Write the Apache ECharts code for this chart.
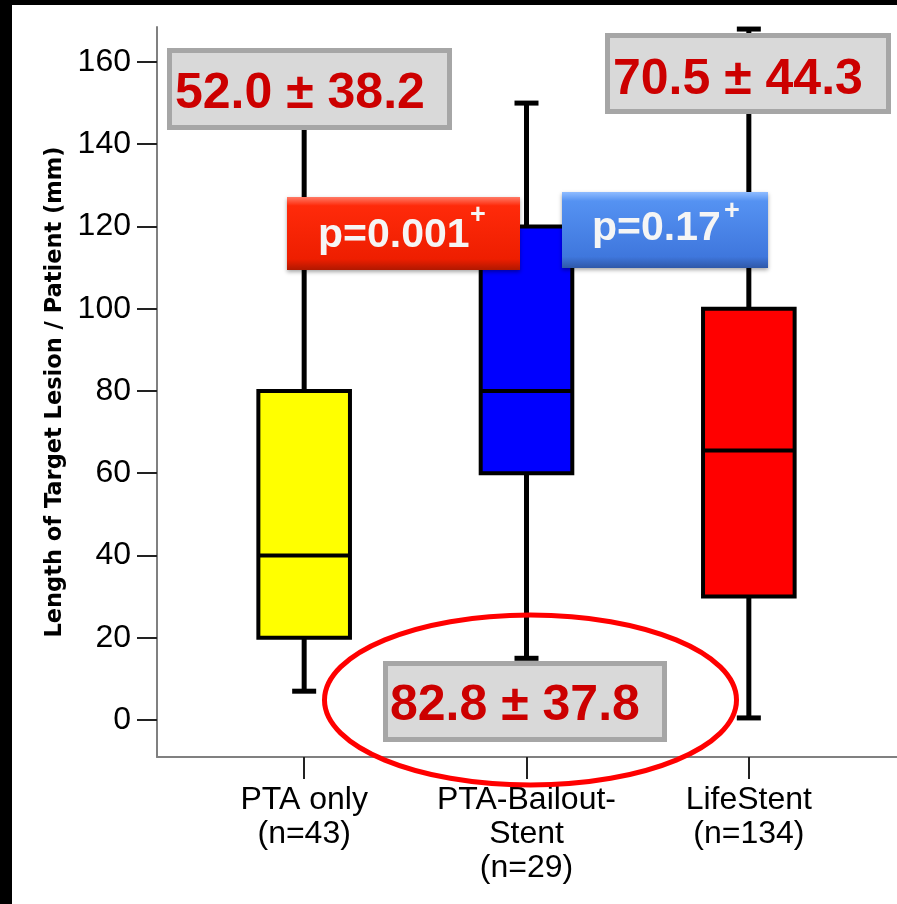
<!DOCTYPE html>
<html>
<head>
<meta charset="utf-8">
<title>Length of Target Lesion / Patient</title>
<script src="https://cdn.jsdelivr.net/npm/echarts@6.0.0/dist/echarts.min.js"></script>
<style>
  html, body { margin: 0; padding: 0; background: #fff; }
  #chart { width: 897px; height: 904px; }
</style>
</head>
<body>
<div id="chart"></div>
<script>
// values
const categories = ['PTA only\n(n=43)', 'PTA-Bailout-\nStent\n(n=29)', 'LifeStent\n(n=134)']
const whiskerLow = [7, 15, 0.5]
const quartile1 = [20, 60, 30]
const medians = [40, 80, 65.5]
const quartile3 = [80, 120, 100]
const whiskerHigh = [155, 150, 168]
const means = [52.0, 82.8, 70.5]
const sds = [38.2, 37.8, 44.3]
const pValues = ['0.001', '0.17']
const yTicks = [0, 20, 40, 60, 80, 100, 120, 140, 160]

const boxColors = ['#FFFF00', '#0000FF', '#FF0000']
const FONT = '"Liberation Sans", Arial, sans-serif'

const chart = echarts.init(document.getElementById('chart'))

function renderBox(params, api) {
  const i = api.value(0)
  const low = api.coord([i, api.value(1)])
  const q1 = api.coord([i, api.value(2)])
  const med = api.coord([i, api.value(3)])
  const q3 = api.coord([i, api.value(4)])
  const high = api.coord([i, api.value(5)])
  const x = low[0]
  const halfBox = api.size([1, 0])[0] * 0.206
  const halfCap = 12
  const line = { stroke: '#000', lineWidth: 5 }
  return {
    type: 'group',
    children: [
      { type: 'line', shape: { x1: x, y1: low[1], x2: x, y2: q1[1] }, style: line },
      { type: 'line', shape: { x1: x, y1: q3[1], x2: x, y2: high[1] }, style: line },
      { type: 'line', shape: { x1: x - halfCap, y1: low[1], x2: x + halfCap, y2: low[1] }, style: line },
      { type: 'line', shape: { x1: x - halfCap, y1: high[1], x2: x + halfCap, y2: high[1] }, style: line },
      {
        type: 'rect',
        shape: { x: x - halfBox, y: q3[1], width: halfBox * 2, height: q1[1] - q3[1] },
        style: { fill: boxColors[params.dataIndex], stroke: '#000', lineWidth: 4 }
      },
      { type: 'line', shape: { x1: x - halfBox, y1: med[1], x2: x + halfBox, y2: med[1] }, style: { stroke: '#000', lineWidth: 4 } }
    ]
  }
}

function meanText(i) {
  return means[i].toFixed(1) + ' \u00B1 ' + sds[i].toFixed(1)
}

function grayBox(shape, i, tx, ty) {
  return [
    { type: 'rect', z: 110, shape: shape, style: { fill: '#D9D9D9', stroke: '#A6A6A6', lineWidth: 5 } },
    {
      type: 'text', z: 111, x: tx, y: ty,
      style: { text: meanText(i), fill: '#CC0000', font: 'bold 50px ' + FONT, textAlign: 'left', textVerticalAlign: 'middle', align: 'left', verticalAlign: 'middle' }
    }
  ]
}

function gradient(top, mid, low, bottom) {
  return {
    type: 'linear', x: 0, y: 0, x2: 0, y2: 1,
    colorStops: [
      { offset: 0, color: top }, { offset: 0.12, color: mid },
      { offset: 0.85, color: low }, { offset: 1, color: bottom }
    ]
  }
}

function pButton(shape, fill, p, tx, ty, px, py) {
  return [
    {
      type: 'rect', z: 110, shape: shape,
      style: { fill: fill, shadowBlur: 4, shadowOffsetY: 2, shadowColor: 'rgba(0,0,0,0.35)' }
    },
    {
      type: 'text', z: 111, x: tx, y: ty,
      style: { text: 'p=' + p, fill: '#F5F5F5', font: 'bold 41px ' + FONT, textAlign: 'left', textVerticalAlign: 'middle', align: 'left', verticalAlign: 'middle' }
    },
    {
      type: 'text', z: 111, x: px, y: py,
      style: { text: '+', fill: '#F5F5F5', font: 'bold 27px ' + FONT, textAlign: 'left', textVerticalAlign: 'middle', align: 'left', verticalAlign: 'middle' }
    }
  ]
}

const option = {
  backgroundColor: '#fff',
  animation: false,
  grid: [
    { left: 193, right: 37, top: 27, bottom: 147 },
    { left: 157, right: 0, top: 27, bottom: 147 }
  ],
  xAxis: [
    {
      type: 'category',
      gridIndex: 0,
      data: categories,
      axisLine: { show: false, onZero: false },
      axisTick: { show: true, alignWithLabel: true, length: 22, lineStyle: { color: '#222', width: 2 } },
      axisLabel: { margin: 26, fontSize: 32, lineHeight: 34, color: '#000', fontFamily: FONT, interval: 0 }
    },
    {
      type: 'value',
      gridIndex: 1,
      min: 0,
      max: 1,
      axisLine: { show: true, onZero: false, lineStyle: { color: '#808080', width: 2 } },
      axisTick: { show: false },
      axisLabel: { show: false },
      splitLine: { show: false }
    }
  ],
  yAxis: [
    {
      type: 'value',
      gridIndex: 0,
      min: -9,
      max: 168.5,
      offset: 36,
      name: 'Length of Target Lesion / Patient (mm)',
      nameLocation: 'middle',
      nameRotate: 90,
      nameGap: 86,
      nameTextStyle: { fontSize: 22.5, fontWeight: 'bold', color: '#000', fontFamily: '"DejaVu Sans", sans-serif' },
      axisLine: { show: true, onZero: false, lineStyle: { color: '#808080', width: 2 } },
      axisTick: { show: true, customValues: yTicks, length: 20, lineStyle: { color: '#222', width: 2 } },
      axisLabel: { customValues: yTicks, margin: 26, fontSize: 32, color: '#000', fontFamily: FONT },
      splitLine: { show: false }
    },
    { type: 'value', gridIndex: 1, min: 0, max: 1, show: false }
  ],
  series: [
    {
      type: 'custom',
      xAxisIndex: 0,
      yAxisIndex: 0,
      renderItem: renderBox,
      encode: { x: 0, y: [1, 2, 3, 4, 5] },
      data: categories.map((c, i) => [i, whiskerLow[i], quartile1[i], medians[i], quartile3[i], whiskerHigh[i]])
    }
  ],
  graphic: [
    // black frame on the left and top edges
    { type: 'rect', z: 200, shape: { x: 0, y: 0, width: 12, height: 904 }, style: { fill: '#000' } },
    { type: 'rect', z: 200, shape: { x: 0, y: 0, width: 897, height: 5 }, style: { fill: '#000' } },
    ...grayBox({ x: 169.5, y: 50.5, width: 280, height: 77 }, 0, 175, 94),
    ...grayBox({ x: 607.5, y: 35.5, width: 281, height: 76 }, 2, 613, 80),
    ...grayBox({ x: 385.5, y: 663.5, width: 279, height: 76 }, 1, 390, 706),
    ...pButton({ x: 287, y: 197, width: 233, height: 73 },
      gradient('#FF7A66', '#FF2A0A', '#EE1E00', '#B01800'), pValues[0], 318, 236, 470, 216),
    ...pButton({ x: 562, y: 192, width: 206, height: 76 },
      gradient('#8FBCFF', '#5592F2', '#3F77DD', '#2E58A8'), pValues[1], 592, 229, 724, 212),
    {
      type: 'ellipse', z: 120,
      shape: { cx: 530.5, cy: 700, rx: 206, ry: 85 },
      style: { fill: 'none', stroke: '#FF0000', lineWidth: 5 }
    }
  ]
}

chart.setOption(option)
</script>
</body>
</html>
